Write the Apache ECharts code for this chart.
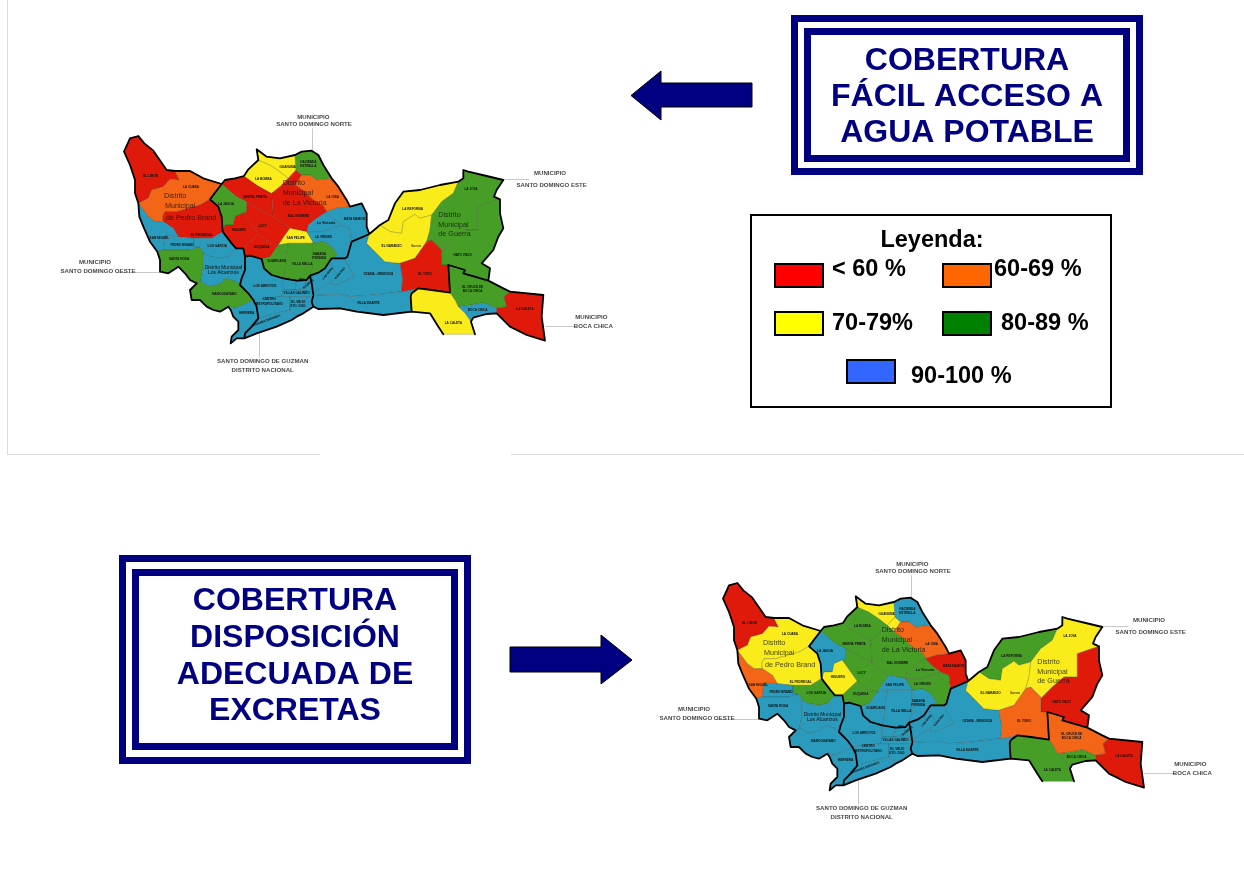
<!DOCTYPE html>
<html><head><meta charset="utf-8">
<style>html,body{margin:0;padding:0;background:#fff}#c{width:1244px;height:896px}</style>
<script src="https://cdn.jsdelivr.net/npm/echarts@6/dist/echarts.min.js"></script>
</head><body><div id="c"></div>
<script>
// Map units are 1/3 page pixel. Every region is one entry in each of these parallel arrays.
const regionNames = ['EL LIMON','LA CUABA','EL PEDREGAL','SAN MIGUEL','PEDRO BRAND','LOS GARCIA','SANTA ROSA','Distrito Municipal|Los Alcarrizos','MANOGUAYABO','HERRERA',
 'LOS ARROYOS','SIN NOMBRE','RIO','ISABELA','VILLAS GALINDO','CENTRO|METROPOLITANO','EL VIEJO|STO. DGO.','SANCHEZ MIRANDA',
 'SIERRA PRIETA','LA JAGUA','HIGUERO','LUCY','DUQUESA','LA BOMBA','GUANUMA','LA VICTORIA NORTE','HACIENDA|ESTRELLA','LA CIBA','MAL NOMBRE','La Victoria','LA VIRGEN','MATA MAMON','SAN FELIPE','GUARICANO','VILLA MELLA','SABANA|PERDIDA',
 'LOS MINA','CANCINO','OZAMA - MENDOZA','VILLA DUARTE','LA REFORMA','EL NARANJO','LA JOYA','HATO VIEJO','EL TORO','EL CRUCE DE|BOCA CHICA','BOCA CHICA','LA CALETA','LA GALETA'];
const coberturaAgua =     [55,65,55,95,95,95,85,95,85,95, 95,95,95,95,95,95,95,95, 55,85,55,55,55,75,75,55,85,65,55,95,95,95,75,85,85,85, 95,95,95,95,75,75,85,85,55,85,95,75,55];
const coberturaExcretas = [55,75,75,65,95,85,95,95,95,95, 95,95,95,95,95,95,95,95, 85,95,75,85,85,85,75,75,95,65,85,85,85,55,95,95,95,95, 95,95,95,95,85,75,75,55,65,65,85,85,55];
const regionShapes = [
 [[42,125],[60,85],[85,78],[103,100],[130,122],[170,180],[195,183],[208,210],[180,208],[160,230],[125,240],[115,265],[85,280],[75,250],[75,210],[60,165]],
 [[195,183],[240,183],[280,205],[335,222],[300,268],[270,285],[235,295],[200,305],[165,305],[158,320],[160,335],[135,335],[115,320],[85,280],[115,265],[125,240],[160,230],[180,208],[208,210]],
 [[158,320],[165,305],[200,305],[235,295],[270,285],[300,268],[325,290],[335,320],[338,365],[305,385],[252,385],[205,380],[190,355],[160,335]],
 [[85,280],[115,320],[135,335],[160,335],[190,355],[205,380],[165,378],[160,420],[142,425],[120,395],[100,350],[88,320]],
 [[165,378],[205,380],[252,385],[252,410],[270,412],[240,420],[180,420],[160,420]],
 [[252,385],[305,385],[338,365],[365,400],[378,415],[355,440],[330,445],[300,440],[280,430],[270,412],[252,410]],
 [[142,425],[160,420],[180,420],[240,420],[270,412],[280,430],[280,470],[272,515],[260,520],[240,510],[225,490],[205,470],[175,490],[150,485],[150,450]],
 [[280,430],[300,440],[330,445],[355,440],[378,415],[400,415],[405,440],[405,480],[395,505],[390,525],[380,515],[345,505],[335,520],[300,530],[272,515],[280,470]],
 [[260,520],[272,515],[300,530],[335,520],[345,505],[380,515],[390,525],[415,550],[430,570],[410,580],[375,595],[355,590],[330,605],[310,600],[290,590],[270,570],[245,570],[240,540]],
 [[355,590],[375,595],[410,580],[430,570],[440,590],[445,625],[425,650],[405,670],[403,685],[380,685],[362,700],[365,680],[385,660],[385,635],[370,620],[362,600]],
 [[405,440],[420,437],[455,447],[462,475],[485,495],[520,505],[520,540],[515,560],[430,570],[415,550],[390,525],[395,505],[405,480]],
 [[520,505],[560,512],[555,540],[520,540]],
 [[560,512],[590,510],[585,535],[555,540]],
 [[590,510],[600,497],[606,525],[608,545],[555,540],[585,535]],
 [[520,540],[555,540],[608,545],[605,560],[515,560]],
 [[430,570],[515,560],[540,560],[540,600],[520,605],[445,625],[440,590]],
 [[540,560],[605,560],[605,575],[610,590],[580,610],[560,620],[540,600]],
 [[445,625],[520,605],[540,600],[560,620],[545,630],[500,650],[440,670],[403,685],[405,670],[425,650]],
 [[335,222],[345,210],[375,205],[402,198],[445,228],[485,250],[490,320],[410,275],[380,260]],
 [[335,222],[380,260],[410,275],[410,305],[375,320],[370,345],[345,345],[338,365],[335,320],[325,290],[300,268]],
 [[338,365],[345,345],[370,345],[375,320],[400,309],[445,372],[415,400],[400,415],[378,415],[365,400]],
 [[410,275],[490,320],[540,355],[525,375],[505,405],[480,400],[445,372],[400,309],[410,305]],
 [[445,372],[480,400],[505,405],[480,440],[455,447],[420,437],[405,440],[400,415],[415,400]],
 [[445,150],[480,165],[510,185],[535,205],[510,230],[485,250],[445,228],[402,198],[415,178]],
 [[440,118],[470,140],[510,145],[555,135],[558,180],[535,205],[510,185],[480,165],[445,150]],
 [[535,205],[558,180],[575,195],[555,225]],
 [[555,135],[575,125],[605,122],[625,135],[640,165],[665,205],[620,210],[600,195],[575,195],[558,180]],
 [[575,195],[600,195],[620,210],[665,205],[685,230],[710,270],[720,290],[680,295],[650,305],[640,288],[610,270],[585,245],[555,225]],
 [[485,250],[510,230],[535,205],[555,225],[585,245],[610,270],[640,288],[650,305],[620,325],[595,345],[590,365],[540,355],[490,320]],
 [[650,305],[665,322],[695,345],[640,365],[590,365],[595,345],[620,325]],
 [[590,365],[640,365],[695,345],[720,355],[725,395],[712,440],[705,445],[665,445],[682,435],[665,410],[640,395],[610,400]],
 [[650,305],[680,295],[720,290],[755,280],[770,310],[770,350],[778,372],[755,382],[725,395],[720,355],[695,345],[665,322]],
 [[540,355],[590,365],[610,400],[580,400],[535,400],[505,405],[525,375]],
 [[455,447],[480,440],[505,405],[535,400],[530,430],[525,490],[520,505],[485,495],[462,475]],
 [[535,400],[580,400],[610,400],[610,470],[600,497],[590,510],[560,512],[520,505],[525,490],[530,430]],
 [[610,400],[640,395],[665,410],[682,435],[665,445],[645,475],[625,488],[600,497],[610,470]],
 [[600,497],[625,488],[645,475],[660,458],[685,500],[655,520],[612,548],[606,525]],
 [[660,458],[665,445],[705,445],[712,460],[735,500],[680,525],[655,520],[685,500]],
 [[712,440],[725,395],[755,382],[778,372],[770,400],[800,430],[825,455],[870,460],[878,505],[875,545],[790,555],[720,560],[690,553],[610,556],[612,548],[655,520],[680,525],[735,500],[712,460],[705,445]],
 [[610,556],[690,553],[720,560],[790,555],[875,545],[925,535],[905,550],[902,560],[905,605],[820,615],[740,605],[690,595],[625,597],[610,590],[605,575]],
 [[810,345],[835,330],[855,280],[880,245],[930,240],[990,225],[1045,215],[1030,250],[995,275],[965,315],[930,325],[915,313],[880,335],[875,370],[840,365]],
 [[778,372],[810,345],[840,365],[875,370],[880,335],[915,313],[930,325],[965,315],[960,360],[950,395],[915,445],[870,460],[825,455],[800,430],[770,400]],
 [[1045,215],[1060,205],[1060,180],[1075,185],[1130,198],[1180,210],[1160,240],[1152,260],[1170,268],[1105,290],[1105,360],[1065,360],[1030,390],[995,425],[995,420],[965,390],[950,395],[960,360],[965,315],[995,275],[1030,250]],
 [[1170,268],[1170,310],[1180,355],[1165,380],[1150,420],[1115,460],[1140,475],[1135,512],[1060,490],[1065,480],[1015,465],[995,465],[995,425],[1030,390],[1065,360],[1105,360],[1105,290]],
 [[870,460],[915,445],[950,395],[965,390],[995,420],[995,425],[995,465],[1015,465],[1020,548],[965,540],[925,535],[875,545],[878,505]],
 [[1015,465],[1065,480],[1060,490],[1135,512],[1180,535],[1200,545],[1182,560],[1190,590],[1160,595],[1120,578],[1085,585],[1045,590],[1035,570],[1020,548]],
 [[1045,590],[1085,585],[1120,578],[1160,595],[1160,610],[1130,612],[1090,623],[1083,635],[1065,610]],
 [[925,535],[965,540],[1020,548],[1035,570],[1045,590],[1065,610],[1083,635],[1095,673],[1000,673],[985,650],[960,610],[905,605],[902,560],[905,550]],
 [[1200,545],[1300,555],[1295,620],[1305,692],[1250,675],[1200,650],[1160,610],[1160,595],[1190,590],[1182,560]]
];
const labelPoints = [[122,197],[243,231],[275,375],[148,383],[216,404],[322,408],[207,447],[340,481],[343,551],[410,610],
 [465,527],[540,525],[576,510],[595,522],[560,550],[478,575],[565,582],[468,632],
 [435,260],[348,282],[387,361],[458,349],[455,410],[460,207],[533,172],[552,205],[595,163],[668,260],[565,317],[648,340],[640,381],[733,327],[557,384],[500,453],[577,463],[628,438],
 [653,491],[690,490],[805,493],[775,580],[908,296],[845,408],[1083,238],[1058,436],[945,491],[1088,538],[1103,601],[1030,640],[1245,597]];
const hiddenLabels = ['SIN NOMBRE','LA VICTORIA NORTE'];
const labelTilt = {'ISABELA':40,'SANCHEZ MIRANDA':20,'LOS MINA':50,'CANCINO':50};
// Heavy boundaries: coastline and municipal limits.
const heavyLines = [
 [[1000,673],[985,650],[960,610],[905,605],[820,615],[740,605],[690,595],[625,597],[610,590],[580,610],[560,620],[545,630],[500,650],[440,670],[403,685],[380,685],[362,700],[365,680],[385,660],[385,635],[370,620],[362,600],[355,590],[330,605],[310,600],[290,590],[270,570],[245,570],[240,540],[260,520],[240,510],[225,490],[205,470],[175,490],[150,485],[150,450],[142,425],[120,395],[100,350],[88,320],[85,280],[75,250],[75,210],[60,165],[42,125],[60,85],[85,78],[103,100],[130,122],[170,180],[195,183],[240,183],[280,205],[335,222],[345,210],[375,205],[402,198],[415,178],[445,150],[440,118],[470,140],[510,145],[555,135],[575,125],[605,122],[625,135],[640,165],[665,205],[685,230],[710,270],[720,290],[755,280],[770,310],[770,350],[778,372],[810,345],[835,330],[855,280],[880,245],[930,240],[990,225],[1045,215],[1060,205],[1060,180],[1075,185],[1130,198],[1180,210],[1160,240],[1152,260],[1170,268],[1170,310],[1180,355],[1165,380],[1150,420],[1115,460],[1140,475],[1135,512],[1180,535],[1200,545],[1300,555],[1295,620],[1305,692],[1250,675],[1200,650],[1160,610],[1130,612],[1090,623],[1083,635],[1095,673]],
 [[335,222],[300,268],[325,290],[335,320],[338,365],[365,400],[378,415],[400,415],[405,440],[405,480],[395,505],[390,525],[415,550],[430,570],[440,590],[445,625],[425,650],[405,670],[403,685]],
 [[405,440],[420,437],[455,447],[462,475],[485,495],[520,505],[560,512],[590,510],[600,497],[625,488],[645,475],[665,445],[705,445],[712,440],[725,395],[755,382],[778,372]],
 [[600,497],[606,525],[610,556],[605,575],[610,590]],
 [[905,605],[902,560],[905,550],[925,535],[965,540],[1020,548],[1015,465],[1065,480],[1060,490],[1135,512]]
];
const districtNames = [['Distrito',162,257],['Municipal',165,287],['de Pedro Brand',168,324],['Distrito',518,220],['Municipal',518,250],['de La Victoria',518,278],['Distrito',985,315],['Municipal',985,345],['de Guerra',985,373]];
const placeNames = [['MUNICIPIO',610,22],['SANTO DOMINGO NORTE',612,44],['MUNICIPIO',-45,456],['SANTO DOMINGO OESTE',-36,483],['SANTO DOMINGO DE GUZMAN',458,755],['DISTRITO NACIONAL',458,781],['MUNICIPIO',1320,190],['SANTO DOMINGO ESTE',1325,226],['MUNICIPIO',1444,623],['BOCA CHICA',1450,648]];
const smallNotes = [['Guerra',918,408]];
const leaderLines = [[[608,55],[608,122]],[[22,487],[150,487]],[[448,670],[448,742]],[[1180,208],[1258,208]],[[1305,650],[1398,650]]];
const legendLabels = ['< 60 %','60-69 %','70-79%','80-89 %','90-100 %'];
const legendColors = ['#ff0000','#ff6600','#ffff00','#008000','#3366ff'];
const mapColors = ['#e01a0a','#f46617','#f9ec1a','#479e27','#2a9bbd'];
const titleAgua = ['COBERTURA','FÁCIL ACCESO A','AGUA POTABLE'];
const titleExcretas = ['COBERTURA','DISPOSICIÓN','ADECUADA DE','EXCRETAS'];

const flip = p => [p[0], -p[1]];
const regionsGeo = {type:'FeatureCollection',features:regionNames.map((n,i)=>({type:'Feature',
  properties:{name:n,cp:flip(labelPoints[i])},
  geometry:{type:'Polygon',coordinates:[regionShapes[i].concat([regionShapes[i][0]]).map(flip)]}}))};
const heavyGeo = {type:'FeatureCollection',features:[{type:'Feature',properties:{name:'limites'},
  geometry:{type:'MultiLineString',coordinates:heavyLines.map(l=>l.map(flip))}}]};
echarts.registerMap('agua',regionsGeo);
echarts.registerMap('excretas',regionsGeo);
echarts.registerMap('limites',heavyGeo);

function box(lines,ox,oy){
  const pts=lines.flat();const xs=pts.map(p=>p[0]),ys=pts.map(p=>p[1]);
  const x0=Math.min(...xs),x1=Math.max(...xs),y0=Math.min(...ys),y1=Math.max(...ys);
  return {left:ox+x0/3,top:oy+y0/3,width:(x1-x0)/3,height:(y1-y0)/3};
}
const MAPFONT='"Liberation Sans",sans-serif';
const origins=[[110,110],[709,557]];
const maps=[['agua',coberturaAgua],['excretas',coberturaExcretas]];
const series=[],geos=[];
const bandPieces=[{lt:60,color:mapColors[0]},{gte:60,lt:70,color:mapColors[1]},{gte:70,lt:80,color:mapColors[2]},{gte:80,lt:90,color:mapColors[3]},{gte:90,color:mapColors[4]}];
maps.forEach(([name,vals],k)=>{
  const [ox,oy]=origins[k];
  series.push({type:'map',map:name,aspectScale:1,roam:false,silent:true,z:2,animation:false,...box(regionShapes,ox,oy),
    selectedMode:false,emphasis:{disabled:true},
    itemStyle:{borderColor:'rgba(30,40,30,0.7)',borderWidth:0.3,borderJoin:'round'},
    label:{show:true,color:'#111',fontFamily:MAPFONT,fontWeight:'bold',fontSize:3.1,lineHeight:4.4,formatter:p=>p.name.replace('|','\n')},
    data:regionNames.map((n,i)=>{
      const d={name:n,value:vals[i]};
      if(hiddenLabels.includes(n)) d.label={show:false};
      if(labelTilt[n]) d.label={rotate:labelTilt[n]};
      if(n.startsWith('Distrito')) d.label={fontSize:4.9,lineHeight:5.4,fontWeight:'normal'};
      if(n==='La Victoria') d.label={fontSize:3.6};
      return d;
    })});
  geos.push({map:'limites',aspectScale:1,roam:false,silent:true,z:5,...box(heavyLines,ox,oy),
    label:{show:false},emphasis:{disabled:true},select:{disabled:true},
    itemStyle:{areaColor:'transparent',color:'transparent',borderColor:'#000',borderWidth:1.8,borderJoin:'round',borderCap:'round'}});
});
maps.forEach((m,k)=>{
  series.push({type:'lines',coordinateSystem:'geo',geoIndex:k,z:1,silent:true,animation:false,polyline:false,
    lineStyle:{color:'#c8c8c8',width:1,opacity:1},data:leaderLines.map(l=>({coords:l.map(flip)}))});
  const dot={type:'scatter',coordinateSystem:'geo',geoIndex:k,silent:true,animation:false,symbolSize:0,z:7};
  series.push({...dot,label:{show:true,position:'right',distance:0,formatter:'{b}',color:'#111',fontFamily:MAPFONT,fontSize:7.2},
    data:districtNames.map(d=>({name:d[0],value:flip(d.slice(1))}))});
  series.push({...dot,label:{show:true,position:'inside',formatter:'{b}',color:'#111',fontFamily:MAPFONT,fontWeight:'bold',fontSize:6.1},
    data:placeNames.map(d=>({name:d[0],value:flip(d.slice(1))}))});
  series.push({...dot,label:{show:true,position:'inside',formatter:'{b}',color:'#111',fontFamily:MAPFONT,fontWeight:'bold',fontSize:3.1},
    data:smallNotes.map(d=>({name:d[0],value:flip(d.slice(1))}))});
});

// Decorations
const NAVY='#000080',FONT='Liberation Sans';
const g=[];
const rect=(x,y,w,h,fill,stroke,lw)=>g.push({type:'rect',shape:{x,y,width:w,height:h},style:{fill,stroke,lineWidth:lw}});
const text=(t,x,y,size,color,align)=>g.push({type:'text',x,y:y+1.5,style:{text:t,fill:color,font:'bold '+size+'px "'+FONT+'"',textAlign:align,textVerticalAlign:'middle'}});
const arrow=pts=>g.push({type:'polygon',shape:{points:pts},style:{fill:NAVY,stroke:'#000',lineWidth:1}});
const line=(x1,y1,x2,y2)=>g.push({type:'line',shape:{x1,y1,x2,y2},style:{stroke:'#dcdcdc',lineWidth:1}});
line(7.5,0,7.5,454.5);line(7,454.5,320,454.5);line(511,454.5,1244,454.5);
rect(794.5,18.5,345,153,'#fff',NAVY,7);rect(807.5,31.5,319,127,'#fff',NAVY,7);
titleAgua.forEach((t,i)=>text(t,967,60+i*36,32,NAVY,'center'));
rect(122.5,558.5,345,202,'#fff',NAVY,7);rect(135.5,572.5,319,174,'#fff',NAVY,7);
titleExcretas.forEach((t,i)=>text(t,295,600+i*36.7,32,NAVY,'center'));
arrow([[631,95.5],[661,71],[661,83],[752,83],[752,107],[661,107],[661,120]]);
arrow([[632,660],[601,635],[601,647],[510,647],[510,672],[601,672],[601,684]]);
rect(751,215,360,192,'#fff','#000',2);
text('Leyenda:',932,239,23.5,'#000','center');
const swatches=[[775,264,832,268],[943,264,994,268],[775,312,832,322],[943,312,1001,322],[847,360,911,375]];
legendLabels.forEach((l,i)=>{const s=swatches[i];rect(s[0],s[1],48,23,legendColors[i],'#000',2);text(l,s[2],s[3],23.5,'#000','left');});

echarts.init(document.getElementById('c'),null,{renderer:'canvas'}).setOption({
  animation:false,backgroundColor:'#fff',tooltip:{show:false},
  visualMap:{type:'piecewise',show:false,seriesIndex:[0,1],pieces:bandPieces},
  geo:geos,series,graphic:{elements:g}
});
</script></body></html>
